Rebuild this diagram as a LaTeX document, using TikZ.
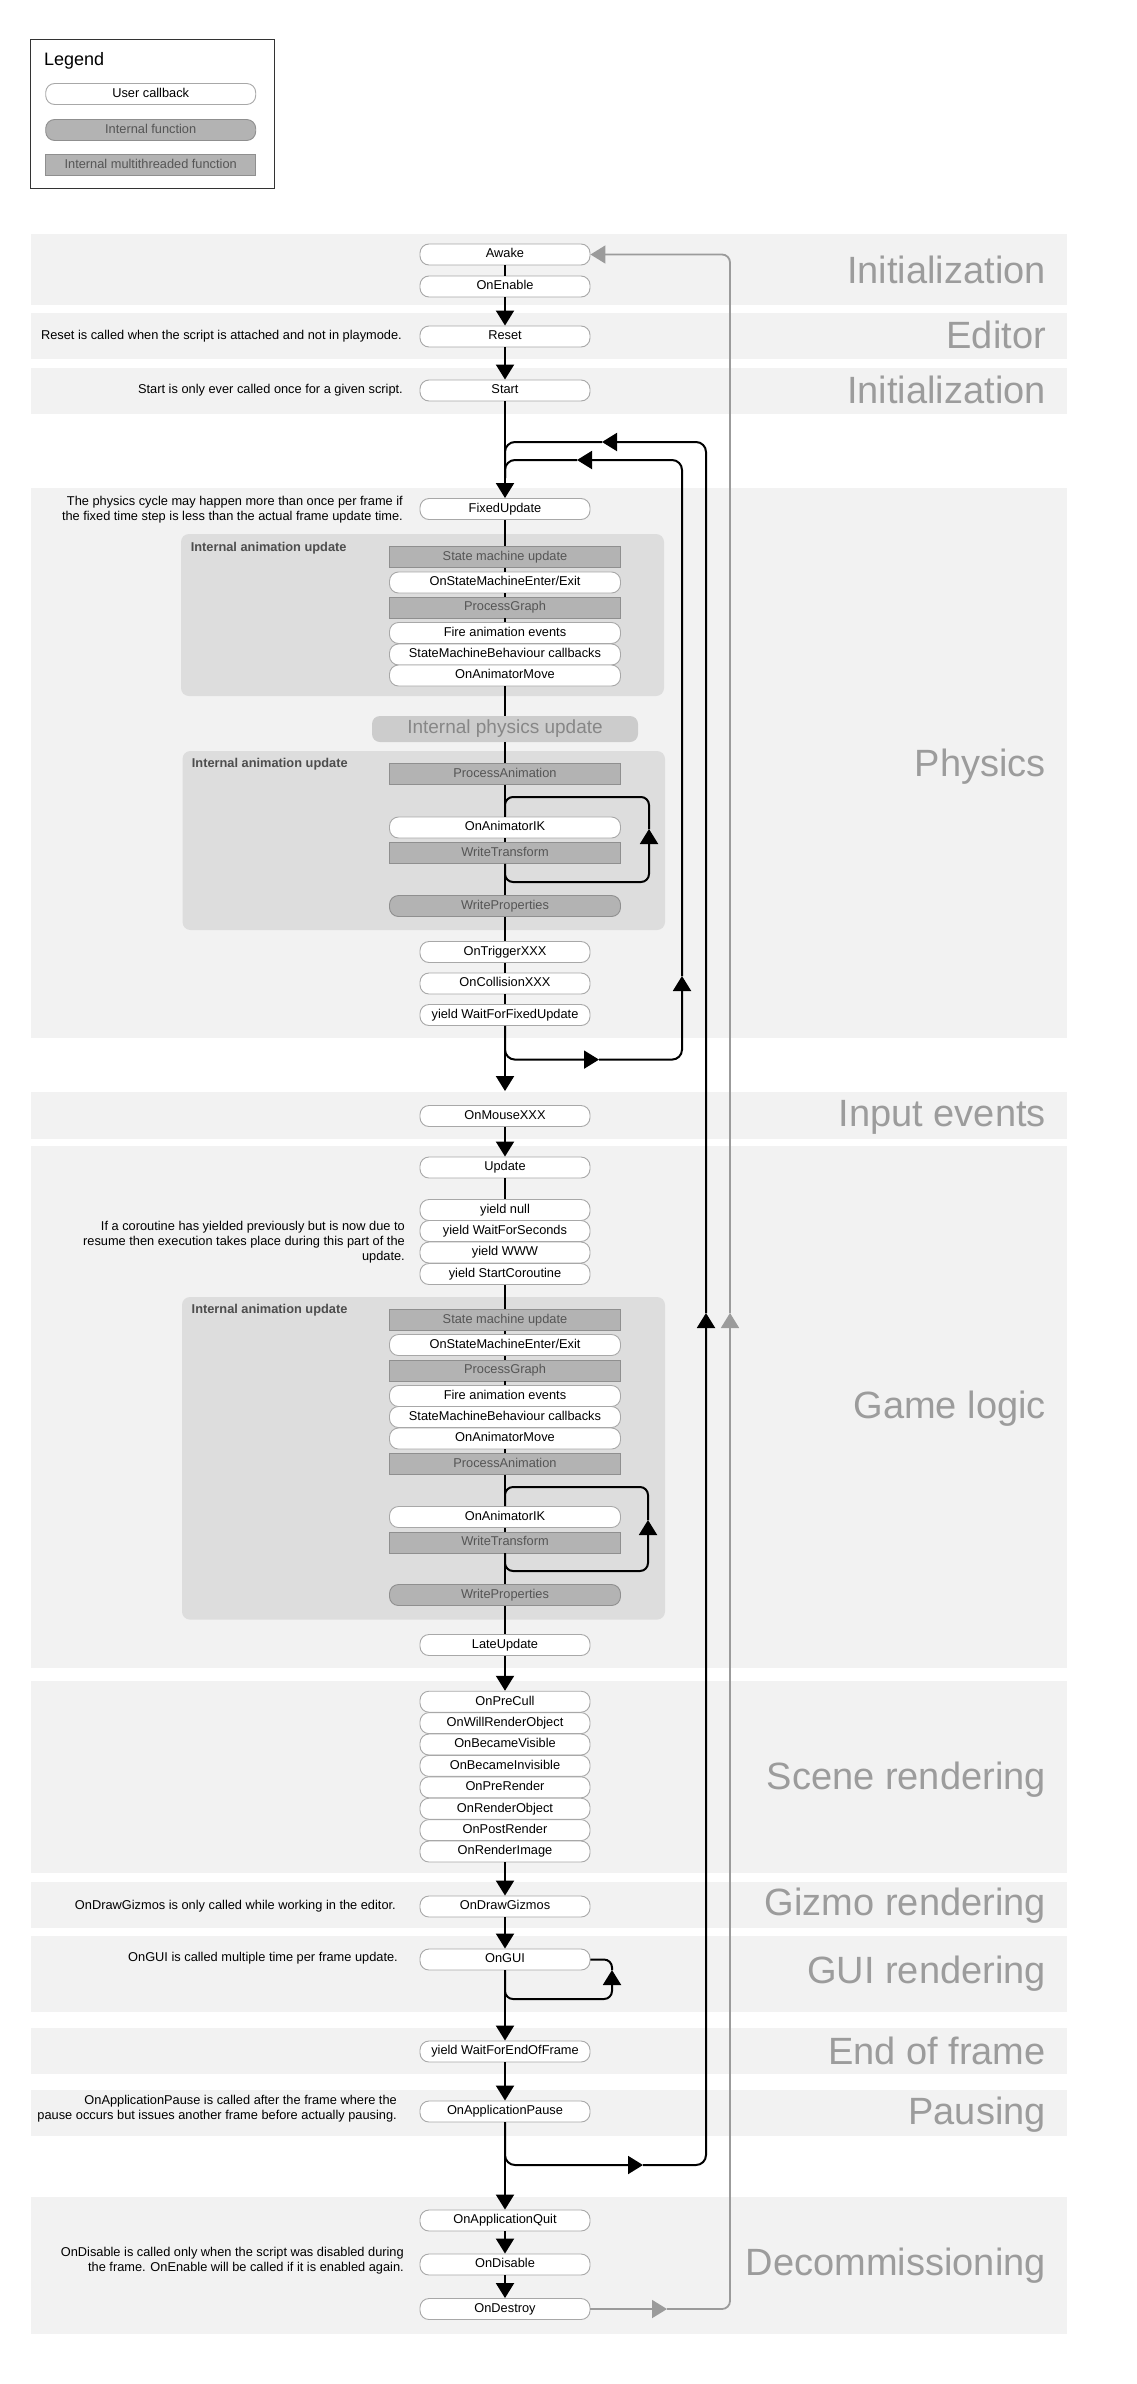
\documentclass[tikz,border=0pt]{standalone}
\usepackage{fontspec}
\setmainfont{Liberation Sans}
\usetikzlibrary{arrows.meta,calc}

\definecolor{bandgray}{HTML}{F2F2F2}
\definecolor{animgray}{HTML}{DDDDDD}
\definecolor{boxgray}{HTML}{B3B3B3}
\definecolor{intborder}{HTML}{8F8F8F}
\definecolor{cbborder}{HTML}{A8A8A8}
\definecolor{intext}{HTML}{555555}
\definecolor{physfill}{HTML}{CCCCCC}
\definecolor{phystext}{HTML}{878787}
\definecolor{stagegray}{HTML}{9C9C9C}
\definecolor{loopgray}{HTML}{9B9B9B}
\definecolor{animtext}{HTML}{4D4D4D}
\definecolor{legendborder}{HTML}{333333}

\newcommand\boxfont{\fontsize{12.8}{15}\selectfont}
\newcommand\stagefont{\fontsize{38}{44}\selectfont}

\tikzset{
  band/.style={fill=bandgray},
  animbox/.style={fill=animgray, rounded corners=8pt},
  callback/.style={draw=cbborder, fill=white, line width=0.9pt, rounded corners=9pt,
    minimum width=170pt, minimum height=21pt, inner sep=0pt,
    text height=9.3pt, text depth=2.7pt, font=\boxfont},
  wide/.style={minimum width=231pt},
  internal/.style={callback, fill=boxgray, draw=intborder, text=intext},
  threaded/.style={internal, sharp corners},
  stage/.style={anchor=base east, text=stagegray, font=\stagefont, inner sep=0pt},
  note/.style={anchor=east, align=right, font=\boxfont, inner sep=0pt},
  animlabel/.style={anchor=west, text=animtext, font={\boxfont\bfseries}, inner sep=0pt},
  flow/.style={line width=2pt},
  back/.style={line width=1.8pt, draw=loopgray},
  headed/.style={-{Triangle[width=18pt,length=15pt]}},
}

\begin{document}
\begin{tikzpicture}[x=1pt,y=-1pt]
\useasboundingbox (0,0) rectangle (1136,2384);

\draw[draw=legendborder, line width=1pt] (30,40) rectangle (274,189);
\node[anchor=base west, inner sep=0pt, font=\fontsize{18}{20}\selectfont] (legendtitle) at (44,66) {Legend};
\node[callback, minimum width=210pt] (lgcb) at (150.7,94) {User callback};
\node[internal, minimum width=210pt] (lgint) at (150.7,130) {Internal function};
\node[threaded, minimum width=210pt] (lgmt) at (150.7,165) {Internal multithreaded function};

\foreach \t/\b in {234/305, 313/359, 367.5/413.5, 487.5/1038, 1092/1139, 1145.5/1668,
  1681/1873, 1882/1928, 1936/2012, 2028/2074, 2089.5/2136, 2197/2334}
  \fill[band] (31,\t) rectangle (1067,\b);

\foreach \y/\txt [count=\i] in {283.4/Initialization, 348/Editor, 403.6/Initialization,
  776/Physics, 1126/Input events, 1418/Game logic, 1789/Scene rendering,
  1915/Gizmo rendering, 1983/GUI rendering, 2064/End of frame, 2124/Pausing,
  2275.5/Decommissioning}
  \node[stage] (stage\i) at (1046,\y) {\txt};

\fill[animbox] (181,534) rectangle (664,696);
\fill[animbox] (182.5,751) rectangle (665,930);
\fill[animbox] (182,1297) rectangle (665,1619.6);
\node[animlabel] (animlabA) at (190.6,548) {Internal animation update};
\node[animlabel] (animlabB) at (191.7,764) {Internal animation update};
\node[animlabel] (animlabC) at (191.5,1310.6) {Internal animation update};

\node[note] (noteReset) at (402,336.5) {Reset is called when the script is attached and not in playmode.};
\node[note] (noteStart) at (403,390.5) {Start is only ever called once for a given script.};
\node[note] (notePhys) at (403,509.5) {The physics cycle may happen more than once per frame if\\the fixed time step is less than the actual frame update time.};
\node[note] (noteCo) at (405,1242) {If a coroutine has yielded previously but is now due to\\resume then execution takes place during this part of the\\update.};
\node[note] (noteGiz) at (396,1906) {OnDrawGizmos is only called while working in the editor.};
\node[note] (noteGui) at (398,1958.5) {OnGUI is called multiple time per frame update.};
\node[note] (notePause) at (397,2108.5) {OnApplicationPause is called after the frame where the\\pause occurs but issues another frame before actually pausing.};
\node[note] (noteDis) at (404,2261) {OnDisable is called only when the script was disabled during\\the frame. OnEnable will be called if it is enabled again.};

\node[callback] (awake) at (505,254.5) {Awake};
\node[callback] (enable) at (505,286.5) {OnEnable};
\node[callback] (reset) at (505,336.5) {Reset};
\node[callback] (start) at (505,390.5) {Start};
\node[callback] (fixed) at (505,509) {FixedUpdate};

\node[threaded,wide] (smA) at (505,557) {State machine update};
\node[callback,wide] (smeA) at (505,582.5) {OnStateMachineEnter/Exit};
\node[threaded,wide] (pgA) at (505,607.5) {ProcessGraph};
\node[callback,wide] (faeA) at (505,633) {Fire animation events};
\node[callback,wide] (smbA) at (505,654.5) {StateMachineBehaviour callbacks};
\node[callback,wide] (amA) at (505,675.5) {OnAnimatorMove};

\node[fill=physfill, rounded corners=8pt, minimum width=266pt, minimum height=26pt, inner sep=0pt,
  text=phystext, font=\fontsize{19}{22}\selectfont] (ipu) at (505,729) {Internal physics update};

\node[threaded,wide] (paB) at (505,774) {ProcessAnimation};
\node[callback,wide] (ikB) at (505,827.5) {OnAnimatorIK};
\node[threaded,wide] (wtB) at (505,853) {WriteTransform};
\node[internal,wide] (wpB) at (505,906) {WriteProperties};

\node[callback] (trigger) at (505,952) {OnTriggerXXX};
\node[callback] (collision) at (505,983.5) {OnCollisionXXX};
\node[callback] (wffu) at (505,1015) {yield WaitForFixedUpdate};
\node[callback] (mouse) at (505,1116) {OnMouseXXX};
\node[callback] (update) at (505,1167.5) {Update};
\node[callback] (ynull) at (505,1210) {yield null};
\node[callback] (ywfs) at (505,1231) {yield WaitForSeconds};
\node[callback] (ywww) at (505,1252.5) {yield WWW};
\node[callback] (ysc) at (505,1274) {yield StartCoroutine};

\node[threaded,wide] (smC) at (505,1320) {State machine update};
\node[callback,wide] (smeC) at (505,1345) {OnStateMachineEnter/Exit};
\node[threaded,wide] (pgC) at (505,1370.5) {ProcessGraph};
\node[callback,wide] (faeC) at (505,1396) {Fire animation events};
\node[callback,wide] (smbC) at (505,1417) {StateMachineBehaviour callbacks};
\node[callback,wide] (amC) at (505,1438.5) {OnAnimatorMove};
\node[threaded,wide] (paC) at (505,1464) {ProcessAnimation};
\node[callback,wide] (ikC) at (505,1517) {OnAnimatorIK};
\node[threaded,wide] (wtC) at (505,1542.5) {WriteTransform};
\node[internal,wide] (wpC) at (505,1595) {WriteProperties};
\node[callback] (late) at (505,1645) {LateUpdate};

\foreach \nm [count=\i from 0] in {OnPreCull, OnWillRenderObject, OnBecameVisible,
  OnBecameInvisible, OnPreRender, OnRenderObject, OnPostRender, OnRenderImage}
  \node[callback] (sr\i) at (505,{1701.7+21.4*\i}) {\nm};

\node[callback] (gizmos) at (505,1906.5) {OnDrawGizmos};
\node[callback] (gui) at (505,1959.5) {OnGUI};
\node[callback] (eof) at (505,2051.5) {yield WaitForEndOfFrame};
\node[callback] (pause) at (505,2111.5) {OnApplicationPause};
\node[callback] (quit) at (505,2220.5) {OnApplicationQuit};
\node[callback] (disable) at (505,2264.5) {OnDisable};
\node[callback] (destroy) at (505,2309) {OnDestroy};

\foreach \a/\b in {awake/enable, fixed/smA, smA/smeA, smeA/pgA, pgA/faeA, amA/ipu, ipu/paB,
  paB/ikB, ikB/wtB, wtB/wpB, wpB/trigger, trigger/collision, collision/wffu, update/ynull,
  ysc/smC, smC/smeC, smeC/pgC, pgC/faeC, amC/paC, paC/ikC, ikC/wtC, wtC/wpC, wpC/late}
  \draw[flow] (\a.south) -- (\b.north);
\foreach \a/\b in {enable/reset, reset/start, start/fixed, mouse/update, late/sr0, sr7/gizmos,
  gizmos/gui, gui/eof, eof/pause, pause/quit, quit/disable, disable/destroy}
  \draw[flow,headed] (\a.south) -- (\b.north);
\draw[flow,headed] (wffu.south) -- ([yshift=14pt]mouse.north);

\coordinate (ikBtop) at (505,797);
\coordinate (ikBbot) at (505,882);
\coordinate (ikBtip) at (649,829);
\draw[flow,headed,rounded corners=8pt] (wtB.south) -- (ikBbot) -| (ikBtip);
\draw[flow,rounded corners=8pt] (ikBtip) |- (ikBtop) -- (ikB.north);

\coordinate (ikCtop) at (505,1487);
\coordinate (ikCbot) at (505,1571);
\coordinate (ikCtip) at (648,1520);
\draw[flow,headed,rounded corners=8pt] (wtC.south) -- (ikCbot) -| (ikCtip);
\draw[flow,rounded corners=8pt] (ikCtip) |- (ikCtop) -- (ikC.north);

\coordinate (guiBot) at (505,1999);
\coordinate (guiTip) at (612,1970);
\draw[flow,headed,rounded corners=8pt] (gui.south) -- (guiBot) -| (guiTip);
\draw[flow,rounded corners=8pt] (guiTip) |- (gui.east);

\coordinate (physBot) at (505,1059.6);
\coordinate (physTipR) at (599,1059.6);
\coordinate (physTipU) at (682,976);
\coordinate (physTipL) at (577,460);
\draw[flow,headed,rounded corners=10pt] (wffu.south) -- (physBot) -- (physTipR);
\draw[flow,headed,rounded corners=10pt] (physTipR) -| (physTipU);
\draw[flow,headed,rounded corners=10pt] (physTipU) |- (physTipL);
\draw[flow,rounded corners=10pt] (physTipL) -| ([yshift=20pt]fixed.north);

\coordinate (frameBot) at (505,2165);
\coordinate (frameTipR) at (643,2165);
\coordinate (frameTipU) at (706,1313);
\coordinate (frameTipL) at (602,442);
\draw[flow,headed,rounded corners=10pt] (pause.south) -- (frameBot) -- (frameTipR);
\draw[flow,headed,rounded corners=10pt] (frameTipR) -| (frameTipU);
\draw[flow,headed,rounded corners=10pt] (frameTipU) |- (frameTipL);
\draw[flow,rounded corners=10pt] (frameTipL) -| ([yshift=20pt]fixed.north);

\coordinate (grayTipR) at (667,2309);
\coordinate (grayTipU) at (730,1313);
\draw[back,headed] (destroy.east) -- (grayTipR);
\draw[back,headed,rounded corners=8pt] (grayTipR) -| (grayTipU);
\draw[back,headed,rounded corners=8pt] (grayTipU) |- (awake.east);
\end{tikzpicture}
\end{document}
